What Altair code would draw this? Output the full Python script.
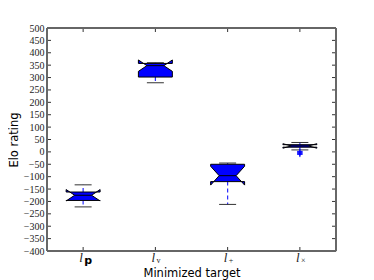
import altair as alt
import pandas as pd

# ---- data ----
positions = [1, 2, 3, 4]
sub_labels = ["p", "v", "+", "×"]
whisker_lo = [-222, 279, -212, 8]
q1 = [-196, 302, -120, 19]
notch_lo = [-198, 325, -134, 15]
median = [-175, 348, -96, 24]
notch_hi = [-152, 371, -58, 33]
q3 = [-162, 357, -50, 29]
whisker_hi = [-133, 360, -45, 38]
flier_pos = [4, 4, 4, 4]
flier_val = [2, -2, -6, -10]
y_ticks = list(range(-400, 501, 50))

BOX_W = 0.47
W, H = 289, 223

# polygon vertices of each notched box (matplotlib order)
poly = []
for i, p in enumerate(positions):
    L, R = p - BOX_W / 2, p + BOX_W / 2
    cl, cr = p - BOX_W / 4, p + BOX_W / 4
    pts = [(L, q1[i]), (L, notch_lo[i]), (cl, median[i]), (L, notch_hi[i]),
           (L, q3[i]), (R, q3[i]), (R, notch_hi[i]), (cr, median[i]),
           (R, notch_lo[i]), (R, q1[i]), (L, q1[i])]
    for k, (xx, v) in enumerate(pts):
        poly.append({"box": i, "seq": k, "x": xx, "v": v})
poly = pd.DataFrame(poly)

whisk = pd.DataFrame({
    "p": positions * 2,
    "a": q3 + q1,
    "b": whisker_hi + whisker_lo,
})
caps = pd.DataFrame({
    "l": [p - BOX_W / 4 for p in positions] * 2,
    "r": [p + BOX_W / 4 for p in positions] * 2,
    "v": whisker_hi + whisker_lo,
})
meds = pd.DataFrame({
    "l": [p - BOX_W / 4 for p in positions],
    "r": [p + BOX_W / 4 for p in positions],
    "v": median,
})
fliers = pd.DataFrame({"p": flier_pos, "v": flier_val})
yt = pd.DataFrame({"v": y_ticks})
xt = pd.DataFrame({"p": positions, "s": sub_labels,
                   "bold": [True, False, False, False]})

xs = alt.Scale(domain=[0.5, 4.5], nice=False, zero=False)
ys = alt.Scale(domain=[-400, 500], nice=False, zero=False)

X = lambda f: alt.X(f, type="quantitative", scale=xs,
                    axis=alt.Axis(labels=False, ticks=False, domain=False, grid=False,
                                  title="Minimized target", titleFont="DejaVu Sans",
                                  titleFontSize=11.5, titleFontWeight="normal",
                                  titleColor="#000", titleX=W / 2, titleY=16,
                                  titleBaseline="top"))
Y = lambda f: alt.Y(f, type="quantitative", scale=ys,
                    axis=alt.Axis(values=y_ticks, tickSize=0, domain=False, grid=False,
                                  labelFont="Liberation Serif", labelFontSize=10,
                                  labelColor="#222", labelPadding=3,
                                  title="Elo rating", titleFont="DejaVu Sans",
                                  titleFontSize=11.5, titleFontWeight="normal",
                                  titleColor="#000", titleAngle=270, titleX=-33,
                                  titleY=H / 2, titleBaseline="middle",
                                  titleAlign="center"))

whisker_layer = alt.Chart(whisk).mark_rule(
    color="#2a2aff", strokeDash=[4, 3], strokeWidth=1.2
).encode(x=X("p"), y=Y("a"), y2="b")

cap_layer = alt.Chart(caps).mark_rule(color="#333", strokeWidth=1).encode(
    x=X("l"), x2="r", y=Y("v"))

box_layer = alt.Chart(poly).mark_line(
    fill="#0000ff", stroke="#000", strokeWidth=1, interpolate="linear"
).encode(x=X("x"), y=Y("v"), detail="box:N", order="seq:Q")

med_layer = alt.Chart(meds).mark_rule(color="#000", strokeWidth=1).encode(
    x=X("l"), x2="r", y=Y("v"))

flier_layer = alt.Chart(fliers).mark_point(
    shape="M-1,0L1,0M0,-1L0,1", filled=False, color="#0000ff", size=30,
    strokeWidth=1, opacity=1
).encode(x=X("p"), y=Y("v"))

tick_col = "#333"
lt = alt.Chart(yt).mark_rule(color=tick_col).encode(
    x=alt.value(0), x2=alt.value(4), y=Y("v"))
rt = alt.Chart(yt).mark_rule(color=tick_col).encode(
    x=alt.value(W - 4), x2=alt.value(W), y=Y("v"))
bt = alt.Chart(xt).mark_rule(color=tick_col).encode(
    x=X("p"), y=alt.value(H - 4), y2=alt.value(H))
tt = alt.Chart(xt).mark_rule(color=tick_col).encode(
    x=X("p"), y=alt.value(0), y2=alt.value(4))

# frame (spines)
spine_col = "#666"
frame_top = alt.Chart(xt).mark_rule(color=spine_col, strokeWidth=1.3).encode(
    x=alt.value(0), x2=alt.value(W), y=alt.value(0))
frame_bot = alt.Chart(xt).mark_rule(color=spine_col, strokeWidth=1.3).encode(
    x=alt.value(0), x2=alt.value(W), y=alt.value(H))
frame_l = alt.Chart(xt).mark_rule(color=spine_col, strokeWidth=1.3).encode(
    x=alt.value(0), y=alt.value(0), y2=alt.value(H))
frame_r = alt.Chart(xt).mark_rule(color=spine_col, strokeWidth=1.3).encode(
    x=alt.value(W), y=alt.value(0), y2=alt.value(H))

l_text = alt.Chart(xt).mark_text(
    text="l", font="Liberation Serif", fontStyle="italic", fontSize=13,
    color="#222", align="center", baseline="middle", dx=-2
).encode(x=X("p"), y=alt.value(H + 7))
sub_text = alt.Chart(xt[~xt["bold"]]).mark_text(
    font="Liberation Serif", fontSize=8, color="#222",
    align="left", baseline="middle", dx=1, dy=2
).encode(x=X("p"), y=alt.value(H + 8), text="s:N")
bold_text = alt.Chart(xt[xt["bold"]]).mark_text(
    font="DejaVu Sans", fontWeight="bold", fontSize=11, color="#000",
    align="left", baseline="middle", dx=1, dy=1
).encode(x=X("p"), y=alt.value(H + 9), text="s:N")

chart = alt.layer(
    whisker_layer, cap_layer, box_layer, med_layer, flier_layer,
    lt, rt, bt, tt, frame_top, frame_bot, frame_l, frame_r,
    l_text, sub_text, bold_text
).properties(
    width=W, height=H,
    autosize=alt.AutoSizeParams(type="none"),
    padding={"left": 39, "top": 20, "right": 20, "bottom": 30},
).configure_view(stroke=None).configure(background="white")

chart.save("out.html", embed_options={"renderer": "svg", "actions": False})
